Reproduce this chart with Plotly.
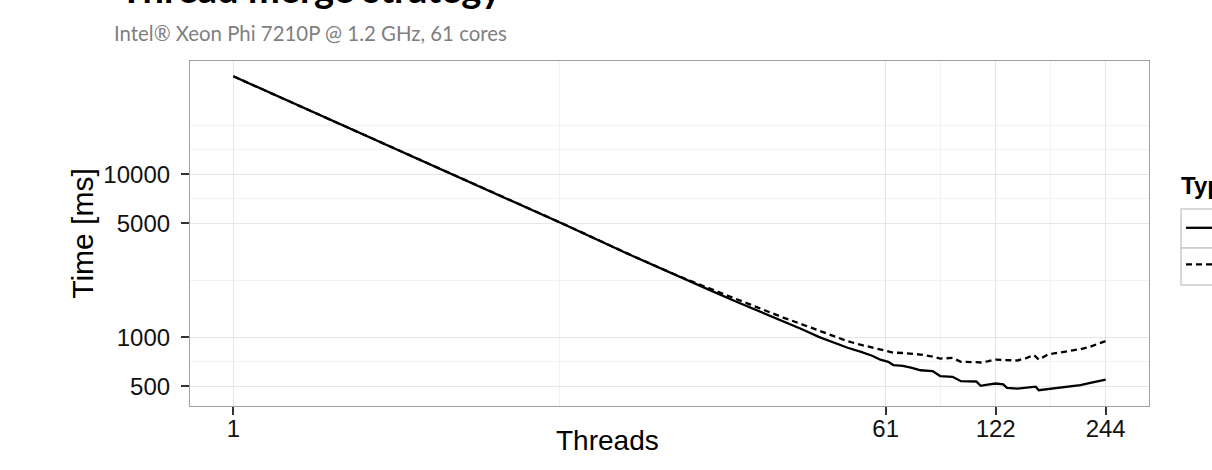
import plotly.graph_objects as go

# ---- data ----
threads = [1, 2, 4, 8, 12, 16, 20, 24, 28, 32, 36, 40, 44, 48, 52, 56, 59, 62, 64, 68,
           72, 76, 82, 86, 93, 98, 108, 111, 116, 122, 128, 131, 140, 148, 155, 157,
           160, 170, 183, 195, 208, 220, 232, 244]
time_solid = [39900, 19900, 10000, 4950, 3250, 2430, 1960, 1640, 1420, 1250, 1120, 1005,
              925, 862, 815, 770, 728, 706, 675, 668, 648, 627, 620, 578, 572, 537, 535,
              503, 512, 520, 514, 489, 484, 492, 500, 497, 473, 480, 491, 500, 508, 522,
              535, 550]
time_dashed = [39900, 19900, 10000, 4960, 3260, 2450, 2000, 1700, 1480, 1320, 1200, 1095,
               1010, 945, 900, 865, 840, 815, 805, 800, 790, 783, 760, 740, 746, 706, 703,
               700, 712, 729, 725, 724, 720, 745, 778, 760, 729, 785, 805, 825, 845, 870,
               905, 948]
series_names = ["Type A", "Type B"]

x_ticks = [1, 61, 122, 244]
x_minor = [7.81, 86.27, 172.53]
y_ticks = [500, 1000, 5000, 10000]
y_minor = [707.1, 2236, 7071, 14142, 20000]

title_text = "Thread merge strategy"
subtitle_text = "Intel® Xeon Phi 7210P @ 1.2 GHz, 61 cores"
x_title = "Threads"
y_title = "Time [ms]"
legend_title = "Type"

fig = go.Figure()
fig.add_trace(go.Scatter(x=threads, y=time_solid, mode="lines", name=series_names[0],
                         line=dict(color="black", width=2.3), legendgroup="a"))
fig.add_trace(go.Scatter(x=threads, y=time_dashed, mode="lines", name=series_names[1],
                         line=dict(color="black", width=2.3, dash="6px,4px"), legendgroup="b"))

sans = "Liberation Sans, Arial, Helvetica, sans-serif"
axis_font = dict(family=sans, size=24, color="#111111")
title_font = dict(family=sans, size=30, color="black")

fig.update_xaxes(type="log", range=[-0.1185, 2.506],
                 tickmode="array", tickvals=x_ticks, ticktext=[str(v) for v in x_ticks],
                 ticks="outside", ticklen=8, tickwidth=1.5, tickcolor="#333333",
                 ticklabelstandoff=-7,
                 tickfont=axis_font,
                 showgrid=True, gridcolor="#e6e6e6", gridwidth=1,
                 minor=dict(tickmode="array", tickvals=x_minor, showgrid=True,
                            gridcolor="#f2f2f2", gridwidth=1, ticks=""),
                 showline=True, linecolor="#a0a0a0", linewidth=1.2, mirror=True,
                 zeroline=False)
fig.update_yaxes(type="log", range=[2.578, 4.695],
                 tickmode="array", tickvals=y_ticks, ticktext=[str(v) for v in y_ticks],
                 ticks="outside", ticklen=8, tickwidth=1.5, tickcolor="#333333",
                 ticklabelstandoff=6,
                 tickfont=axis_font,
                 showgrid=True, gridcolor="#e6e6e6", gridwidth=1,
                 minor=dict(tickmode="array", tickvals=y_minor, showgrid=True,
                            gridcolor="#f2f2f2", gridwidth=1, ticks=""),
                 showline=True, linecolor="#a0a0a0", linewidth=1.2, mirror=True,
                 zeroline=False,
                 title=dict(text=y_title, standoff=0, font=title_font))

# x-axis title (placed as in the reference, left of the panel centre)
fig.add_annotation(text=x_title, xref="paper", yref="paper",
                   x=(607 - 190) / 959, y=(406 - 440) / 345, xanchor="center", yanchor="middle",
                   showarrow=False, font=dict(family=sans, size=28, color="black"))

# legend key boxes (ggplot-style)
box_style = dict(type="rect", xref="paper", yref="paper", line=dict(color="#cccccc", width=1.5),
                 fillcolor="rgba(0,0,0,0)", layer="below")
fig.add_shape(x0=1.0334, x1=1.12, y0=0.4588, y1=0.571, **box_style)
fig.add_shape(x0=1.0334, x1=1.12, y0=0.3507, y1=0.4588, **box_style)

fig.add_annotation(text="<b>" + legend_title + "</b>", xref="paper", yref="paper",
                   x=(1179 - 190) / 959, y=(406 - 185) / 345, xanchor="left", yanchor="middle",
                   showarrow=False, font=dict(family=sans, size=24, color="black"))

fig.add_annotation(text="<b>" + title_text + "</b>", xref="paper", yref="paper",
                   x=(118 - 190) / 959, y=1 + (61 - 13) / 345, xanchor="left", yanchor="bottom",
                   showarrow=False,
                   font=dict(family="Lato, Open Sans, sans-serif", size=38, color="black"))
fig.add_annotation(text=subtitle_text, xref="paper", yref="paper",
                   x=(112 - 190) / 959, y=1 + (61 - 33) / 345, xanchor="left", yanchor="middle",
                   showarrow=False,
                   font=dict(family="Lato, Open Sans, sans-serif", size=20.4, color="#7f7f7f"))

fig.update_layout(
    width=1212, height=470,
    margin=dict(l=190, r=63, t=61, b=64, autoexpand=False),
    paper_bgcolor="white", plot_bgcolor="white",
    showlegend=True,
    legend=dict(x=1.0334, xanchor="left", y=(406 - 207) / 345, yanchor="top",
                font=dict(family=sans, size=22, color="black"),
                tracegroupgap=5, bgcolor="rgba(0,0,0,0)", borderwidth=0),
)

fig.write_html("out.html")
